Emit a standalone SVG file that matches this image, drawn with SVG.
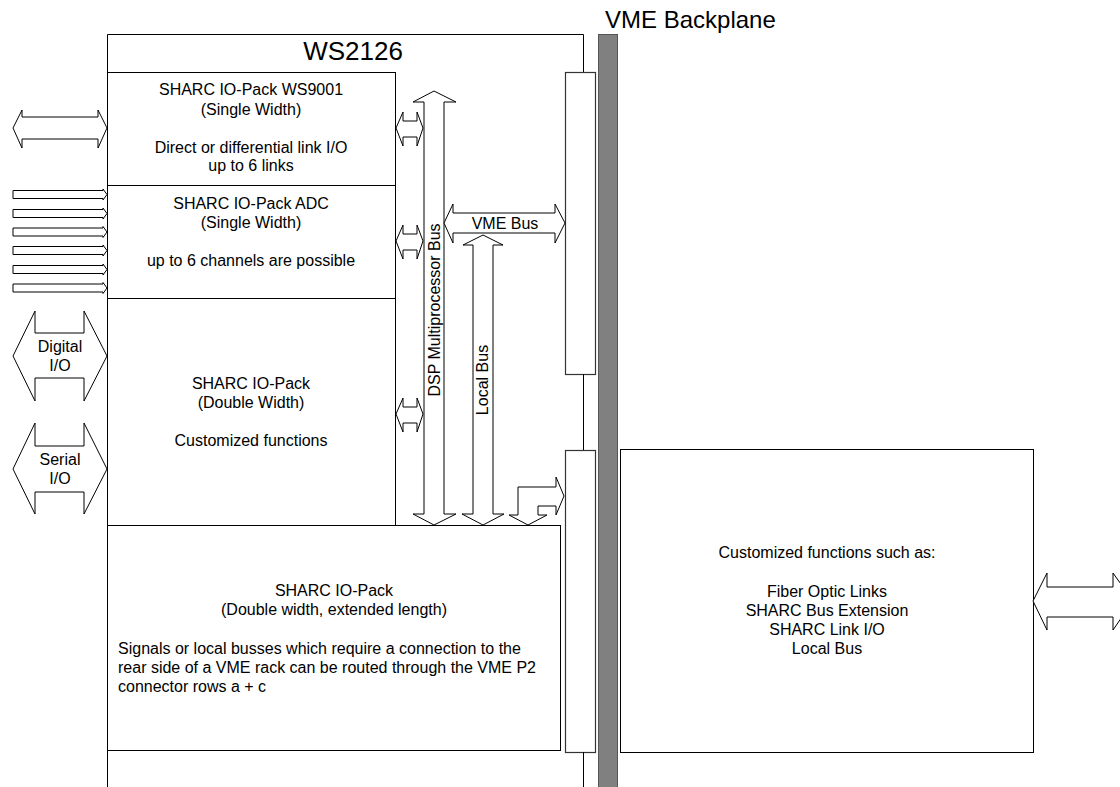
<svg xmlns="http://www.w3.org/2000/svg" width="1120" height="787" viewBox="0 0 1120 787">
<style>
.box{fill:#fff;stroke:#000;stroke-width:1}
.con{fill:#fff;stroke:#333;stroke-width:1.2}
.arr{fill:#fff;stroke:#000;stroke-width:1;stroke-linejoin:miter}
.ln{fill:none;stroke:#000;stroke-width:1}
text{font-family:"Liberation Sans",Arial,sans-serif;font-size:16px;fill:#000}
.c{text-anchor:middle}
</style>
<rect width="1120" height="787" fill="#fff"/>
<g id="ws2126">
<path class="ln" d="M107.5,787 V34.5 H583.5 V72"/>
<text class="c" x="353" y="60" style="font-size:26px">WS2126</text>
</g>
<g id="backplane">
<rect x="598.5" y="34.5" width="19" height="753" fill="#808080" stroke="#555" stroke-width="1"/>
<text x="605" y="28" style="font-size:24px">VME Backplane</text>
</g>
<g id="connector-upper">
<rect class="con" x="565.5" y="72.5" width="30" height="302"/>
<path class="ln" d="M583.5,374 V450"/>
</g>
<g id="connector-lower">
<rect class="con" x="565.5" y="450.5" width="30" height="302"/>
<path class="ln" d="M583.5,752 V787"/>
</g>
<g id="pack-ws9001">
<rect class="box" x="107.5" y="72.5" width="288" height="113"/>
<text class="c" x="251" y="95">SHARC IO-Pack WS9001</text>
<text class="c" x="251" y="115">(Single Width)</text>
<text class="c" x="251" y="153">Direct or differential link I/O</text>
<text class="c" x="251" y="171">up to 6 links</text>
</g>
<g id="pack-adc">
<rect class="box" x="107.5" y="185.5" width="288" height="113"/>
<text class="c" x="251" y="209">SHARC IO-Pack ADC</text>
<text class="c" x="251" y="228">(Single Width)</text>
<text class="c" x="251" y="266">up to 6 channels are possible</text>
</g>
<g id="pack-double">
<rect class="box" x="107.5" y="298.5" width="288" height="227"/>
<text class="c" x="251" y="389">SHARC IO-Pack</text>
<text class="c" x="251" y="408">(Double Width)</text>
<text class="c" x="251" y="446">Customized functions</text>
</g>
<g id="pack-extended">
<rect class="box" x="107.5" y="525.5" width="453" height="225"/>
<text class="c" x="334" y="596">SHARC IO-Pack</text>
<text class="c" x="334" y="615">(Double width, extended length)</text>
<text x="118" y="654">Signals or local busses which require a connection to the</text>
<text x="118" y="673">rear side of a VME rack can be routed through the VME P2</text>
<text x="118" y="692">connector rows a + c</text>
</g>
<g id="custom-box">
<rect class="box" x="620.5" y="449.5" width="413" height="303"/>
<text class="c" x="827" y="558">Customized functions such as:</text>
<text class="c" x="827" y="597">Fiber Optic Links</text>
<text class="c" x="827" y="616">SHARC Bus Extension</text>
<text class="c" x="827" y="635">SHARC Link I/O</text>
<text class="c" x="827" y="654">Local Bus</text>
</g>
<g id="connectors">
<polygon class="arr" points="13,128 22,110 22,117 98,117 98,110 107,128 98,148 98,139 22,139 22,148"/>
<g id="adc-inputs">
<polygon class="arr" points="13,190.5 103,190.5 103,189 107,194.5 103,200 103,198.5 13,198.5"/>
<polygon class="arr" points="13,209.5 103,209.5 103,208 107,213.5 103,219 103,217.5 13,217.5"/>
<polygon class="arr" points="13,228 103,228 103,226.5 107,232 103,237.5 103,236 13,236"/>
<polygon class="arr" points="13,246.5 103,246.5 103,245 107,250.5 103,256 103,254.5 13,254.5"/>
<polygon class="arr" points="13,265.5 103,265.5 103,264 107,269.5 103,275 103,273.5 13,273.5"/>
<polygon class="arr" points="13,284 103,284 103,282.5 107,288 103,293.5 103,292 13,292"/>
</g>
<polygon class="arr" points="13,356 35,311 35,333 84,333 84,311 107,356 84,401 84,378 35,378 35,401"/>
<text class="c" x="60" y="352">Digital</text>
<text class="c" x="60" y="371">I/O</text>
<polygon class="arr" points="13,469 35,423 35,446 84,446 84,423 107,469 84,514 84,492 35,492 35,514"/>
<text class="c" x="60" y="465">Serial</text>
<text class="c" x="60" y="484">I/O</text>
<polygon class="arr" points="396,128 403,112 403,121 417,121 417,112 423,128 417,146 417,137 403,137 403,146"/>
<polygon class="arr" points="396,241 403,225 403,234 417,234 417,225 423,241 417,259 417,250 403,250 403,259"/>
<polygon class="arr" points="396,414 403,398 403,407 417,407 417,398 423,414 417,432 417,423 403,423 403,432"/>
<polygon class="arr" points="434,91 456,102 444,102 444,514 456,514 434,525 413,514 424,514 424,102 413,102"/>
<text class="c" transform="translate(440,310) rotate(-90)">DSP Multiprocessor Bus</text>
<polygon class="arr" points="483,235 503,245 493,245 493,514 504,514 483,525 462,514 473,514 473,245 463,245"/>
<text class="c" transform="translate(488,380) rotate(-90)">Local Bus</text>
<polygon class="arr" points="444,223 453,204 453,213 555,213 555,204 565,223 555,243 555,233 453,233 453,243"/>
<text class="c" x="505" y="229">VME Bus</text>
<polygon class="arr" points="518,515 518,487 556,487 556,477 564,496 556,515 556,506 538,506 538,515 547,515 528,525 509,515"/>
<polygon class="arr" points="1033,601 1047,573 1047,587 1113,587 1113,573 1133,601 1113,630 1113,617 1047,617 1047,630"/>
</g>
</svg>
